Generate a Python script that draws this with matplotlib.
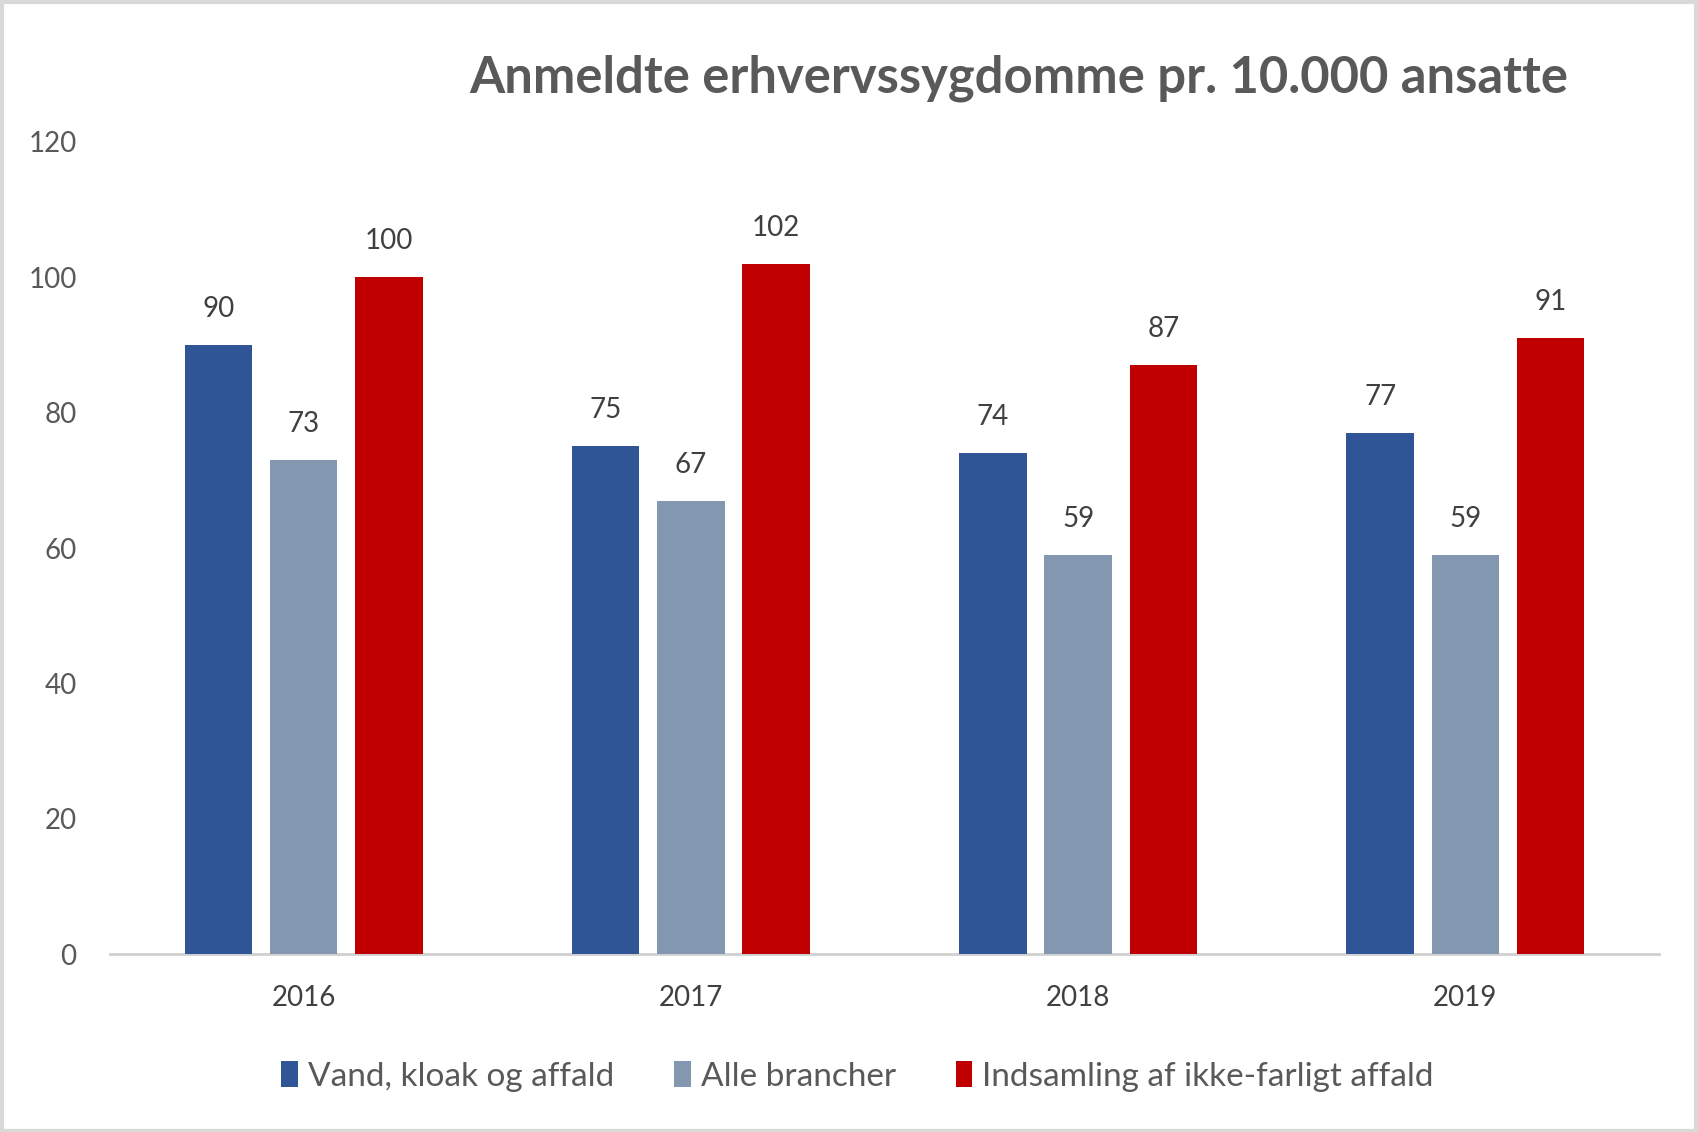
import matplotlib
matplotlib.use("Agg")
import matplotlib.pyplot as plt
from matplotlib.patches import Rectangle
import numpy as np

years = ["2016", "2017", "2018", "2019"]
series_names = ["Vand, kloak og affald", "Alle brancher", "Indsamling af ikke-farligt affald"]
vand = [90, 75, 74, 77]
alle = [73, 67, 59, 59]
indsamling = [100, 102, 87, 91]
colors = ["#2F5597", "#8497B0", "#C00000"]
yticks = [0, 20, 40, 60, 80, 100, 120]

plt.rcParams['font.family'] = ['Lato', 'DejaVu Sans']

fig = plt.figure(figsize=(16.98, 11.32), dpi=100)
ax = fig.add_axes([0.0648, 0.1572, 0.9122, 0.7174])

x = np.arange(len(years))
width = 0.174
offsets = [-0.22, 0.0, 0.22]
for vals, off, col, name in zip([vand, alle, indsamling], offsets, colors, series_names):
    bars = ax.bar(x + off, vals, width, color=col, label=name, zorder=3)
    for b, v in zip(bars, vals):
        ax.annotate(str(v), (b.get_x() + b.get_width() / 2, v), xytext=(0, 26),
                    textcoords="offset points", ha="center", va="center",
                    fontsize=20, color="#404040")

ax.set_xlim(-0.5, 3.5)
ax.set_ylim(0, 120)
ax.set_yticks(yticks)
ax.set_xticks(x)
ax.set_xticklabels(years)
for s in ["top", "right", "left"]:
    ax.spines[s].set_visible(False)
ax.spines["bottom"].set_color("#D0D0D0")
ax.spines["bottom"].set_linewidth(2)
ax.tick_params(axis="y", length=0, pad=24, labelsize=20, labelcolor="#595959")
ax.tick_params(axis="x", length=0, pad=22, labelsize=20, labelcolor="#404040")

fig.text(0.6, 0.931, "Anmeldte erhvervssygdomme pr. 10.000 ansatte", ha="center", va="center",
         fontsize=36.5, fontweight="bold", color="#595959")

leg = fig.legend(loc="center", bbox_to_anchor=(0.505, 0.049), ncol=3, frameon=False,
                 fontsize=24, handlelength=0.5, handleheight=0.8, handletextpad=0.3,
                 columnspacing=1.8, labelcolor="#595959")

fig.patches.append(Rectangle((0.001, 0.001), 0.998, 0.997, transform=fig.transFigure,
                             fill=False, edgecolor="#D9D9D9", linewidth=3))

fig.savefig("out.png", dpi=100)
